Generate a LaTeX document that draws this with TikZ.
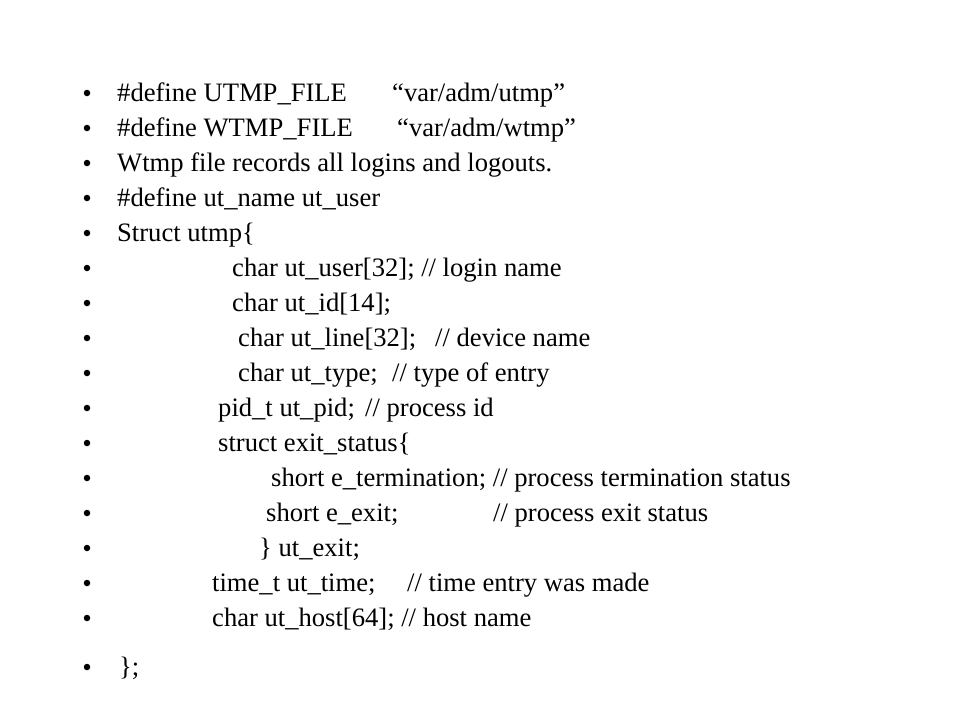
\documentclass[tikz,border=0pt]{standalone}
\usepackage{fontspec}
\setmainfont{Liberation Serif}
\usetikzlibrary{positioning}
\newcommand{\fsize}{\fontsize{26.6}{32}\selectfont}
\newcommand{\dotsize}{6.5pt}
\tikzstyle{codeline} = [% one line of code
  anchor=base west,
  inner sep=0pt,
  font=\fsize
  ]
\tikzstyle{dot} = [% bullet mark
  circle,
  fill=black,
  inner sep=0pt,
  minimum size=\dotsize
  ]

\begin{document}
\begin{tikzpicture}[x=1pt, y=-1pt]
\useasboundingbox (0,0) rectangle (960,720);

%%% Bullets
\foreach \i/\y in {1/101,2/136,3/171,4/206,5/241,6/276,7/311,8/346,9/381,%
  10/416,11/451,12/486,13/521,14/556,15/591,16/626,17/675}
  \node[dot] (b\i) at (87,\y-8) {};

%%% Lines
\node[codeline] (l1) at (117,101) {\#define UTMP\_FILE};
\node[codeline] (l1c) at (392,101) {“var/adm/utmp”};
\node[codeline] (l2) at (117,136) {\#define WTMP\_FILE};
\node[codeline] (l2c) at (397,136) {“var/adm/wtmp”};
\node[codeline] (l3) at (117,171) {Wtmp file records all logins and logouts.};
\node[codeline] (l4) at (117,206) {\#define ut\_name ut\_user};
\node[codeline] (l5) at (117,241) {Struct utmp\{};
\node[codeline] (l6) at (232,276) {char ut\_user[32]; // login name};
\node[codeline] (l7) at (232,311) {char ut\_id[14];};
\node[codeline] (l8) at (238,346) {char ut\_line[32];};
\node[codeline] (l8c) at (435,346) {// device name};
\node[codeline] (l9) at (238,381) {char ut\_type;};
\node[codeline] (l9c) at (392,381) {// type of entry};
\node[codeline] (l10) at (218,416) {pid\_t ut\_pid;};
\node[codeline] (l10c) at (365,416) {// process id};
\node[codeline] (l11) at (218,451) {struct exit\_status\{};
\node[codeline] (l12) at (271,486) {short e\_termination; // process termination status};
\node[codeline] (l13) at (266,521) {short e\_exit;};
\node[codeline] (l13c) at (493,521) {// process exit status};
\node[codeline] (l14) at (259,556) {\} ut\_exit;};
\node[codeline] (l15) at (212,591) {time\_t ut\_time;};
\node[codeline] (l15c) at (407,591) {// time entry was made};
\node[codeline] (l16) at (212,626) {char ut\_host[64]; // host name};
\node[codeline] (l17) at (119,675) {\};};

\end{tikzpicture}
\end{document}
